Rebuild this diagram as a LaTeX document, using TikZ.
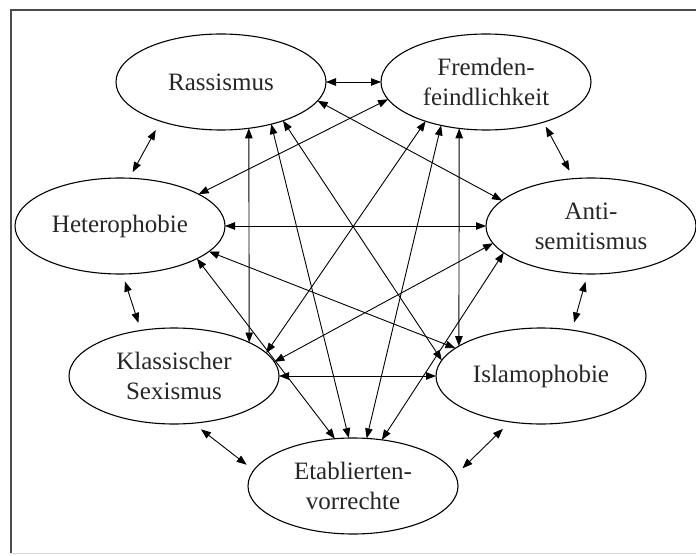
\documentclass[tikz,border=0pt]{standalone}
\usepackage{fontspec}
\setmainfont{Liberation Serif}
\usetikzlibrary{shapes.geometric,arrows.meta}
\begin{document}
\begin{tikzpicture}[x=1pt,y=-1pt,
  ell/.style={draw, ellipse, minimum width=210pt, minimum height=96pt, inner sep=0pt, outer sep=0pt,
    line width=1.1pt, font=\fontsize{25}{30}\selectfont, align=center, text=black!85},
  con/.style={line width=0.9pt, arrows={Triangle[length=10pt,width=7.5pt]-Triangle[length=10pt,width=7.5pt]}},
  frame/.style={line width=1.3pt, black!70}
]
\useasboundingbox (0,0) rectangle (696,556);
\draw[frame] (696,10) -- (11,10) -- (11,553);
\draw[line width=0.6pt, black!15] (11,553) -- (696,553);

\node[ell] (R) at (221,82) {Rassismus};
\node[ell] (F) at (486,82) {Fremden-\\feindlichkeit};
\node[ell] (H) at (120,226) {Heterophobie};
\node[ell] (A) at (591,226) {Anti-\\semitismus};
\node[ell] (S) at (174,376) {Klassischer\\Sexismus};
\node[ell] (I) at (541,376) {Islamophobie};
\node[ell] (E) at (353,486) {Etablierten-\\vorrechte};

% ring
\draw[con] (R.0) -- (F.180);
\draw[con, shorten <=5pt, shorten >=9pt] (F.325.3) -- (A.110.6);
\draw[con, shorten <=8pt, shorten >=8pt] (A.266) -- (I.56.6);
\draw[con, shorten <=10pt, shorten >=10pt] (I.236.8) -- (E.6.6);
\draw[con, shorten <=9pt, shorten >=10pt] (E.171) -- (S.292);
\draw[con, shorten <=8pt, shorten >=8pt] (S.126.9) -- (H.273);
\draw[con, shorten <=7pt, shorten >=10pt] (H.79.7) -- (R.213.1);

% cross connections
\draw[con] (R.349.9) -- (A.164.8);
\draw[con] (R.328.2) -- (I.171.3);
\draw[con] (R.301.3) -- (S.24.4);
\draw[con] (R.320) -- (E.95.5);
\draw[con] (F.190.8) -- (H.22.4);
\draw[con] (F.213.7) -- (S.14.4);
\draw[con] (F.240.8) -- (I.160.5);
\draw[con] (F.224) -- (E.74.9);
\draw[con] (H.0) -- (A.180);
\draw[con] (H.344.2) -- (I.162.9);
\draw[con] (H.337.1) -- (E.111.6);
\draw[con] (A.190.9) -- (S.8.2);
\draw[con] (A.197.5) -- (E.58.4);
\draw[con] (S.0) -- (I.180);
\end{tikzpicture}
\end{document}
